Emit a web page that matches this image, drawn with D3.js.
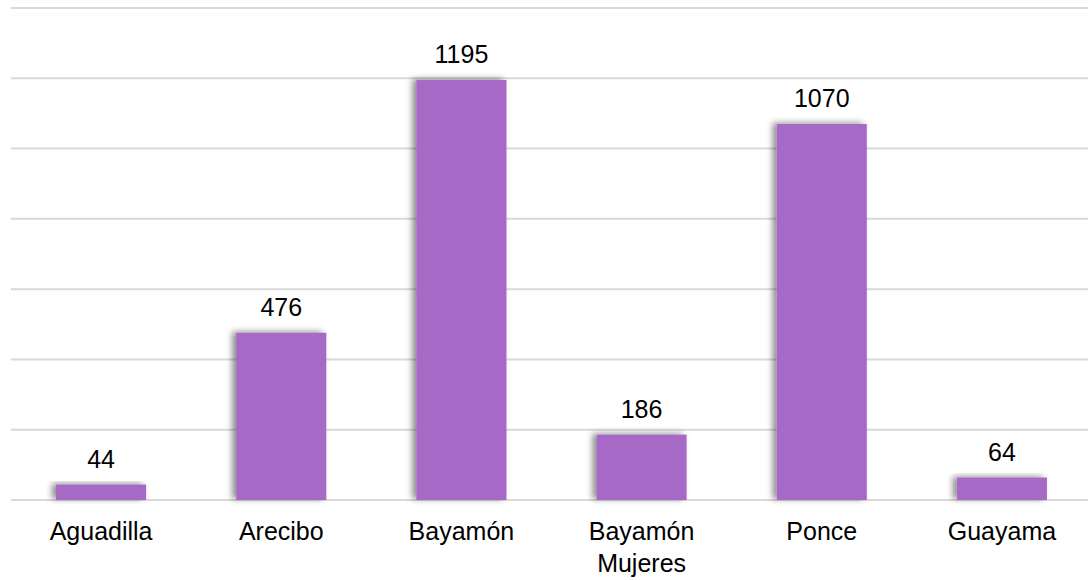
<!DOCTYPE html>
<html>
<head>
<meta charset="utf-8">
<script src="https://cdn.jsdelivr.net/npm/d3@7"></script>
<style>
  body { margin: 0; background: #fff; }
  svg { display: block; font-family: "Liberation Sans", Arial, sans-serif; }
</style>
</head>
<body>
<div id="chart-area"></div>
<script>
const categories = ["Aguadilla", "Arecibo", "Bayamón", "Bayamón\nMujeres", "Ponce", "Guayama"];
const values = [44, 476, 1195, 186, 1070, 64];
const gridTicks = [0, 200, 400, 600, 800, 1000, 1200, 1400];

const canvasWidth = 1088;
const canvasHeight = 580;
const margin = {left: 11, top: 8, right: 0, bottom: 80};

const chartWidth = canvasWidth - margin.left - margin.right;
const chartHeight = canvasHeight - margin.top - margin.bottom;

const canvas = d3.select("#chart-area").append("svg")
  .attr("width", canvasWidth).attr("height", canvasHeight);

const defs = canvas.append("defs");
const shadow = defs.append("filter").attr("id", "shadow")
  .attr("x", "-20%").attr("y", "-20%").attr("width", "140%").attr("height", "140%");
shadow.append("feDropShadow")
  .attr("dx", -4).attr("dy", -1).attr("stdDeviation", 3)
  .attr("flood-color", "#000").attr("flood-opacity", 0.45);

const chartGroup = canvas.append("g").attr("transform", `translate(${margin.left}, ${margin.top})`);

const xScale = d3.scaleBand().domain(categories).range([0, 1081]).paddingInner(0.5).paddingOuter(0.25);
const yScale = d3.scaleLinear().domain([0, 1400]).range([chartHeight, 0]);

// gridlines
chartGroup.selectAll("line.grid")
  .data(gridTicks)
  .enter()
  .append("line")
  .attr("class", "grid")
  .attr("x1", 0).attr("x2", chartWidth)
  .attr("y1", d => yScale(d)).attr("y2", d => yScale(d))
  .attr("stroke", "#d9d9d9").attr("stroke-width", 2);

// bars
chartGroup.selectAll("rect")
  .data(values)
  .enter()
  .append("rect")
  .attr("x", (d, i) => xScale(categories[i]))
  .attr("y", d => yScale(d))
  .attr("width", xScale.bandwidth())
  .attr("height", d => chartHeight - yScale(d))
  .attr("fill", "#a66ac6")
  .attr("filter", "url(#shadow)");

// value labels
chartGroup.selectAll("text.value")
  .data(values)
  .enter()
  .append("text")
  .attr("class", "value")
  .attr("x", (d, i) => xScale(categories[i]) + xScale.bandwidth() / 2)
  .attr("y", d => yScale(d) - 17)
  .attr("text-anchor", "middle")
  .attr("font-size", "25px")
  .attr("fill", "#000")
  .text(d => d);

// category labels
const xAxis = d3.axisBottom(xScale).tickSize(0).tickPadding(0);
const axisG = chartGroup.append("g").attr("transform", `translate(0, ${chartHeight})`).call(xAxis);
axisG.select(".domain").remove();
axisG.selectAll(".tick text").each(function(d) {
  const t = d3.select(this);
  t.text(null).attr("font-size", "25px").attr("fill", "#000").attr("font-family", "Liberation Sans, Arial, sans-serif").attr("dy", null).attr("y", 0);
  d.split("\n").forEach((line, j) => {
    t.append("tspan").attr("x", 0).attr("y", 40 + j * 32).text(line);
  });
});
</script>
</body>
</html>
